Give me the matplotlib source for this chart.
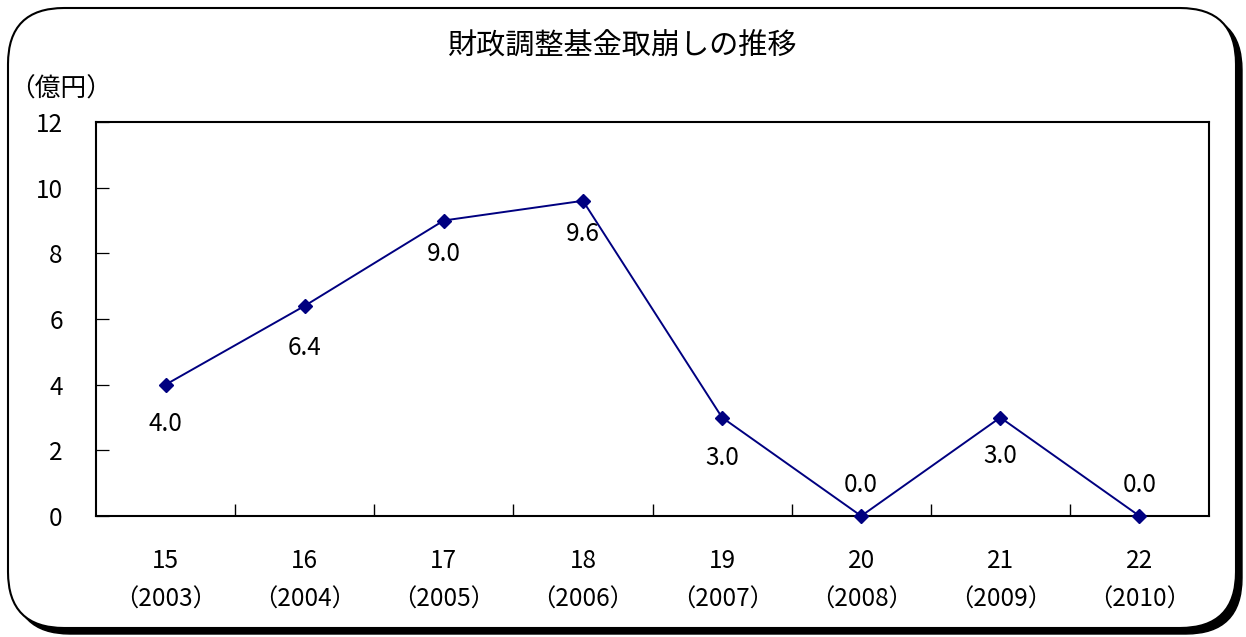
import matplotlib
matplotlib.use("Agg")
from matplotlib import pyplot as plt
from matplotlib.patches import FancyBboxPatch

plt.rcParams['font.family'] = ['Noto Sans CJK JP', 'DejaVu Sans']

years_jp = ["15", "16", "17", "18", "19", "20", "21", "22"]
years_ad = ["2003", "2004", "2005", "2006", "2007", "2008", "2009", "2010"]
amounts = [4.0, 6.4, 9.0, 9.6, 3.0, 0.0, 3.0, 0.0]

# label offsets (points) as placed in the original chart
label_dy = [-28, -30, -24, -24, -29, 22, -28, 22]

W, H = 1246, 637
fig = plt.figure(figsize=(W / 100, H / 100), dpi=100)

# rounded frame with shadow
shadow = FancyBboxPatch((14 / W, 3 / H), 1228 / W, 620 / H,
                        boxstyle="round,pad=0,rounding_size=0.045",
                        transform=fig.transFigure, facecolor="black",
                        edgecolor="black", mutation_aspect=W / H, zorder=-2)
frame = FancyBboxPatch((8 / W, 9 / H), 1228 / W, 620 / H,
                       boxstyle="round,pad=0,rounding_size=0.045",
                       transform=fig.transFigure, facecolor="white",
                       edgecolor="black", linewidth=1.5, mutation_aspect=W / H,
                       zorder=-1)
fig.patches.extend([shadow, frame])

ax = fig.add_axes([96 / W, 1 - 516 / H, (1209 - 96) / W, (516 - 122) / H])
ax.set_facecolor("white")
x = list(range(len(amounts)))
ax.plot(x, amounts, color="#000080", linewidth=1.4, marker="D", markersize=7,
        clip_on=False, zorder=3)

for xi, v, dy in zip(x, amounts, label_dy):
    ax.annotate(f"{v:.1f}", (xi, v), xytext=(0, dy), textcoords="offset points",
                ha="center", va="center", fontsize=17.5)

ax.set_xlim(-0.5, len(amounts) - 0.5)
ax.set_ylim(0, 12)
ax.set_yticks(range(0, 13, 2))
ax.set_xticks(x)
ax.set_xticklabels([f"{a}\n（{b}）" for a, b in zip(years_jp, years_ad)],
                   fontsize=17.5, linespacing=1.65)
ax.set_xticks([i + 0.5 for i in x[:-1]], minor=True)
ax.tick_params(axis="x", which="major", length=0, pad=23)
ax.tick_params(axis="x", which="minor", direction="in", length=9, width=1)
ax.tick_params(axis="y", direction="in", length=9, width=0.9, labelsize=17.5, pad=24)
for s in ax.spines.values():
    s.set_linewidth(1.5)

fig.text(622 / W, 1 - 47 / H, "財政調整基金取崩しの推移", ha="center", va="center", fontsize=21)
fig.text(9 / W, 1 - 90 / H, "（億円）", ha="left", va="center", fontsize=18.5)

fig.savefig("out.png", dpi=100)
